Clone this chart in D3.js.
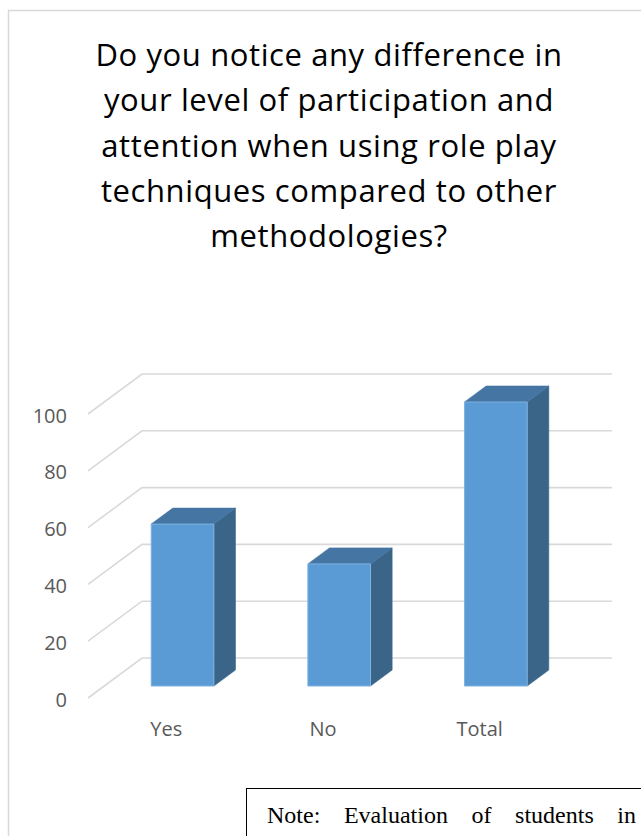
<!DOCTYPE html>
<html>
<head>
<meta charset="utf-8">
<script src="https://cdn.jsdelivr.net/npm/d3@7"></script>
<style>
  html, body { margin: 0; padding: 0; background: #ffffff; }
  svg { display: block; }
</style>
</head>
<body>
<svg id="chart" width="641" height="836"></svg>
<script>
// Survey answers and their counts (percent of respondents)
const categories = ["Yes", "No", "Total"];
const values = [57, 43, 100];
const tickValues = [0, 20, 40, 60, 80, 100];
const titleLines = [
  "Do you notice any difference in",
  "your level of participation and",
  "attention when using role play",
  "techniques compared to other",
  "methodologies?"
];
const noteText = "Note: Evaluation of students in";

const svg = d3.select("#chart");
const W = 641, H = 836;

// Chart frame
svg.append("rect")
  .attr("x", 8.5).attr("y", 10.5)
  .attr("width", W + 10).attr("height", H + 10)
  .attr("fill", "#ffffff")
  .attr("stroke", "#d9d9d9")
  .attr("stroke-width", 1.5);

// Title
const title = svg.append("g")
  .attr("font-family", "'Open Sans', sans-serif")
  .attr("font-size", 31)
  .attr("letter-spacing", 0.6)
  .attr("fill", "#000000")
  .attr("text-anchor", "middle");
titleLines.forEach((line, i) => {
  title.append("text")
    .attr("x", 329)
    .attr("y", 66 + i * 45.3)
    .text(line);
});

// 3D geometry: back wall plane + depth offset towards the viewer
const depth = { dx: -54, dy: 40 };
const y = d3.scaleLinear().domain([0, 100]).range([658, 374]);
const x = d3.scaleBand().domain(categories).range([142, 612])
  .paddingInner(0.6).paddingOuter(0.3);
const backLeft = 142, backRight = 612;

// project (xBack, value, t) where t=0 is back wall, t=1 is front edge
const P = (xb, v, t) => [xb + depth.dx * t, y(v) + depth.dy * t];

// Gridlines: on back wall and along the left side wall
const grid = svg.append("g")
  .attr("stroke", "#d9d9d9")
  .attr("stroke-width", 1.6)
  .attr("fill", "none");
tickValues.forEach(v => {
  const a = P(backLeft, v, 0), b = P(backRight, v, 0), c = P(backLeft, v, 1);
  grid.append("path").attr("d", `M${c[0]},${c[1]}L${a[0]},${a[1]}L${b[0]},${b[1]}`);
});

// Value axis labels
const axis = svg.append("g")
  .attr("font-family", "'Open Sans', sans-serif")
  .attr("font-size", 20)
  .attr("fill", "#595959")
  .attr("text-anchor", "end");
tickValues.forEach(v => {
  const c = P(backLeft, v, 1);
  axis.append("text")
    .attr("x", c[0] - 21)
    .attr("y", c[1] + 1)
    .attr("dominant-baseline", "central")
    .text(v);
});

// Category labels along the front edge of the floor
const cats = svg.append("g")
  .attr("font-family", "'Open Sans', sans-serif")
  .attr("font-size", 20)
  .attr("fill", "#595959")
  .attr("text-anchor", "middle");
categories.forEach(cat => {
  const xc = x(cat) + x.bandwidth() / 2;
  const p = P(xc, 0, 1);
  cats.append("text")
    .attr("x", p[0])
    .attr("y", p[1] + 38)
    .text(cat);
});

// Bars: box between depth t0 (back face) and t1 (front face)
const t0 = 0.3, t1 = 0.7;
const bars = svg.append("g");
const poly = pts => "M" + pts.map(p => p.join(",")).join("L") + "Z";
categories.forEach((cat, i) => {
  const v = values[i];
  const xl = x(cat), xr = x(cat) + x.bandwidth();
  const fBL = P(xl, 0, t1), fBR = P(xr, 0, t1), fTL = P(xl, v, t1), fTR = P(xr, v, t1);
  const bBR = P(xr, 0, t0), bTL = P(xl, v, t0), bTR = P(xr, v, t0);
  // side
  bars.append("path")
    .attr("d", poly([fBR, fTR, bTR, bBR]))
    .attr("fill", "#3b6588")
    .attr("stroke", "#3b6588").attr("stroke-width", 0.6);
  // top
  bars.append("path")
    .attr("d", poly([fTL, fTR, bTR, bTL]))
    .attr("fill", "#4575a3")
    .attr("stroke", "#4575a3").attr("stroke-width", 0.6);
  // front
  bars.append("path")
    .attr("d", poly([fBL, fBR, fTR, fTL]))
    .attr("fill", "#5b9bd5")
    .attr("stroke", "#7fb2e0").attr("stroke-width", 1);
});

// Note box
svg.append("rect")
  .attr("x", 246.5).attr("y", 788.5)
  .attr("width", 420).attr("height", 80)
  .attr("fill", "#ffffff")
  .attr("stroke", "#000000")
  .attr("stroke-width", 1);
const note = svg.append("text")
  .attr("x", 267)
  .attr("y", 823)
  .attr("font-family", "'Liberation Serif', 'Times New Roman', serif")
  .attr("font-size", 24)
  .attr("fill", "#000000")
  .text(noteText);
// justify the line across the box width
const natural = note.node().getComputedTextLength();
const gaps = noteText.split(" ").length - 1;
note.attr("word-spacing", Math.max(0, (369 - natural) / gaps));
</script>
</body>
</html>
